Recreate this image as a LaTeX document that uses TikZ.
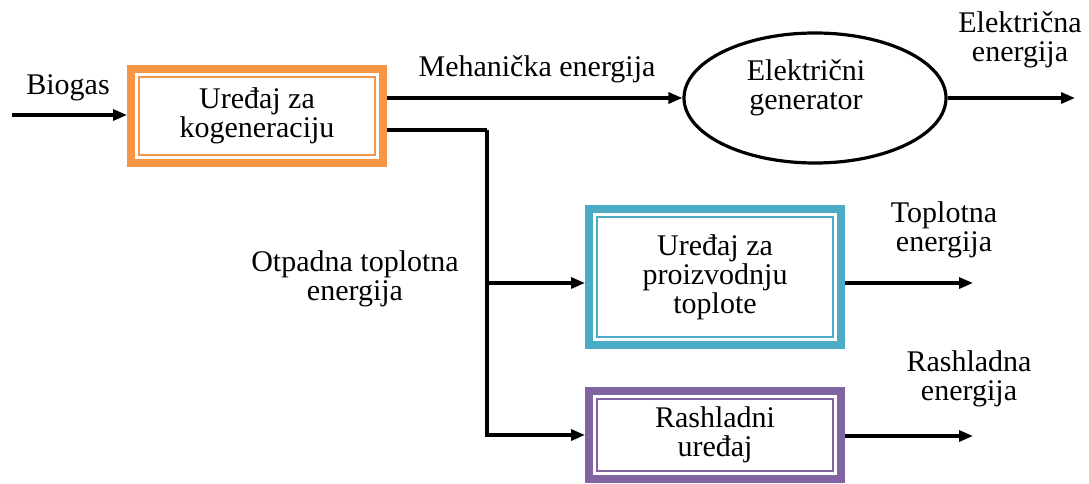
\documentclass[tikz,border=0pt]{standalone}
\usepackage{fontspec}
\setmainfont{Liberation Serif}
\newfontfamily\serifni{Liberation Serif}
\usetikzlibrary{shapes.geometric,arrows.meta}

\definecolor{narandzasta}{RGB}{247,150,70}
\definecolor{tirkizna}{RGB}{75,172,198}
\definecolor{ljubicasta}{RGB}{128,100,162}

\begin{document}
\begin{tikzpicture}[x=1pt, y=-1pt,
    tekst/.style={font=\serifni\fontsize{30}{29}\selectfont, text=black, align=center, inner sep=0pt},
    kutija/.style={tekst, draw=#1, line width=8pt, fill=white, minimum width=252pt,
        path picture={\draw[#1, line width=1.8pt]
            ([shift={(8pt,-8pt)}]path picture bounding box.north west) rectangle
            ([shift={(-8pt,8pt)}]path picture bounding box.south east);}},
    strelica/.style={-{Triangle[length=14pt,width=11pt]}, line width=3.2pt},
    linija/.style={line width=3.2pt}]
    \useasboundingbox (0,0) rectangle (1089,484);

%blokovi
    \node[kutija=narandzasta, minimum height=94pt] (kogen) at (257,116) {Uređaj za\\kogeneraciju};
    \node[kutija=tirkizna, minimum height=136pt] (topl) at (715,277) {Uređaj za\\proizvodnju\\toplote};
    \node[kutija=ljubicasta, minimum height=88pt] (rashl) at (715,435) {Rashladni\\uređaj};
    \node[draw, ellipse, line width=3.2pt, minimum width=262pt, minimum height=130pt, inner sep=0pt,
        label={[tekst, shift={(-9pt,10pt)}]center:Električni\\generator}] (gen) at (815,98) {};

%natpisi
    \node[tekst, anchor=base] (biogas) at (68,95) {Biogas};
    \node[tekst, anchor=base] (meh) at (537,77) {Mehanička energija};
    \node[tekst] (elen) at (1020,40) {Električna\\energija};
    \node[tekst] (otpad) at (355,279) {Otpadna toplotna\\energija};
    \node[tekst] (tplen) at (944,230) {Toplotna\\energija};
    \node[tekst] (rshen) at (969,379) {Rashladna\\energija};

%tacke
    \coordinate (ulaz) at (12,115);
    \coordinate (grana) at (487,130);
    \coordinate (izlazE) at (1075,98);
    \coordinate (izlazT) at (973,283);
    \coordinate (izlazR) at (973,436);

%veze
    \draw[strelica] (ulaz) -- (kogen.west |- ulaz);
    \draw[strelica] (kogen.east |- gen.west) -- (gen.west);
    \draw[strelica] (gen.east) -- (izlazE);
    \draw[linija] (kogen.east |- grana) -- (grana);
    \draw[strelica] (grana) |- (rashl.west);
    \draw[strelica] (grana |- izlazT) -- (topl.west |- izlazT);
    \draw[strelica] (topl.east |- izlazT) -- (izlazT);
    \draw[strelica] (rashl.east |- izlazR) -- (izlazR);
\end{tikzpicture}
\end{document}
